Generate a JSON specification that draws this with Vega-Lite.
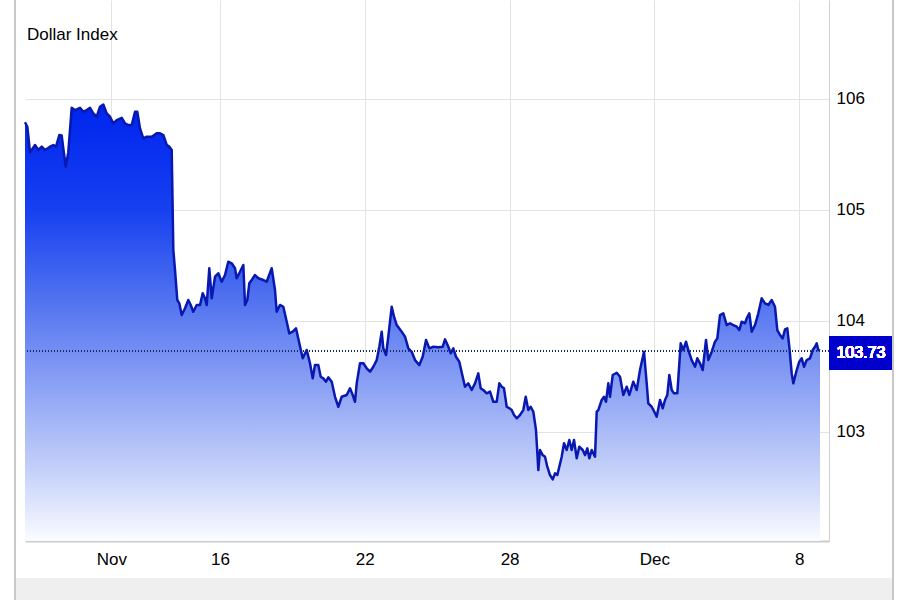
{
  "$schema": "https://vega.github.io/schema/vega-lite/v6.json",
  "width": 804,
  "height": 541,
  "autosize": {"type": "none"},
  "padding": {"left": 25, "top": 0, "right": 71, "bottom": 59},
  "background": "#ffffff",
  "title": {"text": "Dollar Index", "anchor": "start", "frame": "group", "offset": -39, "baseline": "alphabetic", "dx": 2, "dy": 30, "font": "'Liberation Sans', Arial", "fontSize": 17, "fontWeight": "normal", "color": "#000000"},
  "config": {
    "view": {"stroke": null},
    "axis": {"gridColor": "#e3e3e3", "gridWidth": 1, "labelFont": "'Liberation Sans', Arial", "labelFontSize": 17, "labelColor": "#000000", "ticks": false}
  },
  "data": {"values": [
    {"t":-5.387,"v":105.79},{"t":-5.323,"v":105.75},{"t":-5.249,"v":105.52},{"t":-5.202,"v":105.54},{"t":-5.110,"v":105.585},
    {"t":-5.019,"v":105.54},{"t":-4.925,"v":105.57},{"t":-4.834,"v":105.54},{"t":-4.696,"v":105.57},{"t":-4.605,"v":105.585},
    {"t":-4.530,"v":105.57},{"t":-4.439,"v":105.675},{"t":-4.373,"v":105.67},{"t":-4.329,"v":105.555},{"t":-4.262,"v":105.39},
    {"t":-4.191,"v":105.52},{"t":-4.097,"v":105.92},{"t":-4.006,"v":105.90},{"t":-3.867,"v":105.92},{"t":-3.776,"v":105.885},
    {"t":-3.682,"v":105.90},{"t":-3.591,"v":105.92},{"t":-3.500,"v":105.87},{"t":-3.406,"v":105.84},{"t":-3.315,"v":105.93},
    {"t":-3.224,"v":105.95},{"t":-3.130,"v":105.87},{"t":-3.039,"v":105.84},{"t":-2.948,"v":105.78},{"t":-2.854,"v":105.81},
    {"t":-2.715,"v":105.83},{"t":-2.624,"v":105.78},{"t":-2.533,"v":105.765},{"t":-2.439,"v":105.765},{"t":-2.348,"v":105.885},
    {"t":-2.285,"v":105.885},{"t":-2.210,"v":105.735},{"t":-2.119,"v":105.645},{"t":-2.025,"v":105.66},{"t":-1.887,"v":105.66},
    {"t":-1.749,"v":105.69},{"t":-1.657,"v":105.69},{"t":-1.566,"v":105.675},{"t":-1.519,"v":105.63},{"t":-1.472,"v":105.585},
    {"t":-1.401,"v":105.57},{"t":-1.334,"v":105.54},{"t":-1.290,"v":104.64},{"t":-1.243,"v":104.457},{"t":-1.180,"v":104.187},
    {"t":-1.124,"v":104.157},{"t":-1.058,"v":104.051},{"t":-0.967,"v":104.112},{"t":-0.876,"v":104.187},{"t":-0.809,"v":104.142},
    {"t":-0.738,"v":104.081},{"t":-0.644,"v":104.142},{"t":-0.552,"v":104.142},{"t":-0.478,"v":104.247},{"t":-0.414,"v":104.202},
    {"t":-0.367,"v":104.142},{"t":-0.296,"v":104.473},{"t":-0.229,"v":104.202},{"t":-0.138,"v":104.397},{"t":-0.047,"v":104.428},
    {"t":0.047,"v":104.352},{"t":0.138,"v":104.412},{"t":0.229,"v":104.532},{"t":0.323,"v":104.518},{"t":0.414,"v":104.473},
    {"t":0.461,"v":104.383},{"t":0.552,"v":104.442},{"t":0.644,"v":104.503},{"t":0.691,"v":104.142},{"t":0.754,"v":104.187},
    {"t":0.809,"v":104.337},{"t":0.876,"v":104.367},{"t":0.967,"v":104.412},{"t":1.058,"v":104.383},{"t":1.196,"v":104.367},
    {"t":1.290,"v":104.352},{"t":1.428,"v":104.473},{"t":1.519,"v":104.277},{"t":1.566,"v":104.081},{"t":1.657,"v":104.142},
    {"t":1.749,"v":104.126},{"t":1.843,"v":103.991},{"t":1.914,"v":103.886},{"t":2.008,"v":103.901},{"t":2.099,"v":103.931},
    {"t":2.191,"v":103.796},{"t":2.285,"v":103.661},{"t":2.395,"v":103.736},{"t":2.486,"v":103.616},{"t":2.561,"v":103.480},
    {"t":2.624,"v":103.600},{"t":2.715,"v":103.600},{"t":2.782,"v":103.495},{"t":2.854,"v":103.480},{"t":2.928,"v":103.450},
    {"t":2.992,"v":103.489},{"t":3.086,"v":103.450},{"t":3.177,"v":103.314},{"t":3.268,"v":103.224},{"t":3.362,"v":103.314},
    {"t":3.500,"v":103.330},{"t":3.591,"v":103.390},{"t":3.666,"v":103.330},{"t":3.729,"v":103.269},{"t":3.776,"v":103.435},
    {"t":3.867,"v":103.616},{"t":3.959,"v":103.616},{"t":4.052,"v":103.571},{"t":4.144,"v":103.540},{"t":4.235,"v":103.585},
    {"t":4.329,"v":103.645},{"t":4.401,"v":103.765},{"t":4.467,"v":103.901},{"t":4.511,"v":103.751},{"t":4.586,"v":103.691},
    {"t":4.649,"v":103.856},{"t":4.743,"v":104.126},{"t":4.807,"v":104.036},{"t":4.881,"v":103.961},{"t":5.019,"v":103.901},
    {"t":5.110,"v":103.856},{"t":5.202,"v":103.751},{"t":5.296,"v":103.720},{"t":5.387,"v":103.645},{"t":5.506,"v":103.600},
    {"t":5.599,"v":103.675},{"t":5.691,"v":103.826},{"t":5.782,"v":103.751},{"t":5.892,"v":103.765},{"t":6.030,"v":103.760},
    {"t":6.152,"v":103.765},{"t":6.215,"v":103.832},{"t":6.307,"v":103.765},{"t":6.373,"v":103.706},{"t":6.445,"v":103.751},
    {"t":6.519,"v":103.675},{"t":6.610,"v":103.630},{"t":6.704,"v":103.495},{"t":6.768,"v":103.405},{"t":6.859,"v":103.435},
    {"t":6.953,"v":103.375},{"t":7.044,"v":103.435},{"t":7.135,"v":103.525},{"t":7.202,"v":103.390},{"t":7.273,"v":103.375},
    {"t":7.367,"v":103.345},{"t":7.459,"v":103.360},{"t":7.550,"v":103.269},{"t":7.644,"v":103.269},{"t":7.715,"v":103.435},
    {"t":7.782,"v":103.405},{"t":7.845,"v":103.390},{"t":7.920,"v":103.224},{"t":7.992,"v":103.210},{"t":8.058,"v":103.194},
    {"t":8.122,"v":103.149},{"t":8.196,"v":103.120},{"t":8.287,"v":103.149},{"t":8.378,"v":103.194},{"t":8.445,"v":103.314},
    {"t":8.517,"v":103.194},{"t":8.583,"v":103.224},{"t":8.655,"v":103.179},{"t":8.729,"v":103.014},{"t":8.793,"v":102.653},
    {"t":8.840,"v":102.834},{"t":8.914,"v":102.788},{"t":8.978,"v":102.773},{"t":9.041,"v":102.683},{"t":9.116,"v":102.608},
    {"t":9.191,"v":102.569},{"t":9.254,"v":102.623},{"t":9.318,"v":102.608},{"t":9.373,"v":102.683},{"t":9.439,"v":102.773},
    {"t":9.503,"v":102.894},{"t":9.577,"v":102.834},{"t":9.649,"v":102.924},{"t":9.715,"v":102.834},{"t":9.779,"v":102.924},
    {"t":9.854,"v":102.759},{"t":9.925,"v":102.863},{"t":10.019,"v":102.834},{"t":10.083,"v":102.788},{"t":10.146,"v":102.849},
    {"t":10.202,"v":102.759},{"t":10.268,"v":102.834},{"t":10.359,"v":102.773},{"t":10.406,"v":103.179},{"t":10.450,"v":103.194},
    {"t":10.544,"v":103.285},{"t":10.608,"v":103.314},{"t":10.663,"v":103.269},{"t":10.727,"v":103.435},{"t":10.773,"v":103.314},
    {"t":10.848,"v":103.510},{"t":10.959,"v":103.531},{"t":11.050,"v":103.495},{"t":11.141,"v":103.330},{"t":11.235,"v":103.405},
    {"t":11.307,"v":103.330},{"t":11.417,"v":103.450},{"t":11.511,"v":103.375},{"t":11.602,"v":103.555},{"t":11.713,"v":103.720},
    {"t":11.787,"v":103.435},{"t":11.831,"v":103.255},{"t":11.925,"v":103.224},{"t":11.997,"v":103.179},{"t":12.063,"v":103.134},
    {"t":12.155,"v":103.285},{"t":12.229,"v":103.210},{"t":12.293,"v":103.285},{"t":12.356,"v":103.330},{"t":12.412,"v":103.510},
    {"t":12.478,"v":103.375},{"t":12.541,"v":103.345},{"t":12.633,"v":103.345},{"t":12.726,"v":103.796},{"t":12.798,"v":103.736},
    {"t":12.873,"v":103.811},{"t":12.936,"v":103.736},{"t":13.030,"v":103.645},{"t":13.122,"v":103.585},{"t":13.185,"v":103.661},
    {"t":13.260,"v":103.616},{"t":13.334,"v":103.555},{"t":13.425,"v":103.826},{"t":13.489,"v":103.645},{"t":13.583,"v":103.720},
    {"t":13.674,"v":103.811},{"t":13.738,"v":103.841},{"t":13.812,"v":104.051},{"t":13.903,"v":104.067},{"t":13.997,"v":103.961},
    {"t":14.088,"v":103.977},{"t":14.180,"v":103.961},{"t":14.274,"v":103.946},{"t":14.345,"v":103.916},{"t":14.412,"v":103.991},
    {"t":14.503,"v":103.977},{"t":14.550,"v":104.022},{"t":14.622,"v":104.067},{"t":14.688,"v":103.901},{"t":14.779,"v":103.961},
    {"t":14.870,"v":104.067},{"t":14.964,"v":104.202},{"t":15.055,"v":104.157},{"t":15.146,"v":104.142},{"t":15.240,"v":104.187},
    {"t":15.331,"v":104.126},{"t":15.395,"v":103.916},{"t":15.470,"v":103.871},{"t":15.544,"v":103.841},{"t":15.608,"v":103.922},
    {"t":15.671,"v":103.931},{"t":15.727,"v":103.765},{"t":15.793,"v":103.525},{"t":15.837,"v":103.435},{"t":15.931,"v":103.555},
    {"t":16.003,"v":103.630},{"t":16.069,"v":103.661},{"t":16.133,"v":103.585},{"t":16.207,"v":103.645},{"t":16.298,"v":103.661},
    {"t":16.373,"v":103.736},{"t":16.436,"v":103.765},{"t":16.483,"v":103.796},{"t":16.527,"v":103.736},{"t":16.575,"v":103.73}
  ]},
  "layer": [
    {
      "mark": {"type": "rect", "fill": "#efefef"},
      "encoding": {
        "x": {"datum": -5.663, "type": "quantitative", "scale": {"domain": [-5.387, 16.823], "nice": false, "zero": false}},
        "x2": {"datum": 18.59},
        "y": {"datum": 101.679, "type": "quantitative", "scale": {"domain": [102.013, 106.893], "nice": false, "zero": false}},
        "y2": {"datum": 101.3}
      }
    },
    {
      "mark": {"type": "area", "line": false, "fill": {"gradient": "linear", "x1": 0, "y1": 0, "x2": 0, "y2": 1, "stops": [
        {"offset": 0, "color": "rgb(0,36,238)"},
        {"offset": 0.24, "color": "rgb(22,64,240)"},
        {"offset": 0.45, "color": "rgb(82,115,240)"},
        {"offset": 0.68, "color": "rgb(150,170,245)"},
        {"offset": 0.86, "color": "rgb(203,214,250)"},
        {"offset": 1, "color": "rgb(250,252,255)"}
      ]}},
      "encoding": {
        "x": {"field": "t", "type": "quantitative", "scale": {"domain": [-5.387, 16.823], "nice": false, "zero": false},
          "axis": {"title": null, "orient": "bottom", "values": [-3, 0, 4, 8, 12, 16], "labelExpr": "datum.value == -3 ? 'Nov' : datum.value == 0 ? '16' : datum.value == 4 ? '22' : datum.value == 8 ? '28' : datum.value == 12 ? 'Dec' : '8'", "grid": true, "domain": true, "domainColor": "#cccccc", "domainWidth": 2, "labelPadding": 10, "labelFlush": false}},
        "y": {"field": "v", "type": "quantitative", "scale": {"domain": [102.013, 106.893], "nice": false, "zero": false},
          "axis": {"title": null, "orient": "right", "values": [103, 104, 105, 106], "format": ".0f", "grid": true, "domain": true, "domainColor": "#d0d0d0", "labelPadding": 7, "labelFlush": false}},
        "y2": {"datum": 102.013}
      }
    },
    {
      "mark": {"type": "line", "color": "#0818b0", "strokeWidth": 2.5, "strokeJoin": "round"},
      "encoding": {
        "x": {"field": "t", "type": "quantitative"},
        "y": {"field": "v", "type": "quantitative"}
      }
    },
    {
      "mark": {"type": "rule", "color": "#1b2a66", "strokeWidth": 1, "strokeDash": [1, 2]},
      "encoding": {
        "y": {"datum": 103.73, "type": "quantitative"}
      }
    },
    {
      "mark": {"type": "rect", "fill": "#0000cc"},
      "encoding": {
        "x": {"datum": 16.85, "type": "quantitative"},
        "x2": {"datum": 18.56},
        "y": {"datum": 103.862, "type": "quantitative"},
        "y2": {"datum": 103.555}
      }
    },
    {
      "mark": {"type": "text", "color": "#ffffff", "align": "center", "baseline": "middle", "font": "'Liberation Sans', Arial", "fontSize": 16},
      "encoding": {
        "x": {"datum": 17.705, "type": "quantitative"},
        "y": {"datum": 103.705, "type": "quantitative"},
        "text": {"value": "103.73"}
      }
    },
    {
      "mark": {"type": "rule", "color": "#c8c8c8", "strokeWidth": 1},
      "encoding": {
        "x": {"datum": -5.663, "type": "quantitative"},
        "y": {"datum": 107.0, "type": "quantitative"},
        "y2": {"datum": 101.3}
      }
    },
    {
      "mark": {"type": "rule", "color": "#c8c8c8", "strokeWidth": 1},
      "encoding": {
        "x": {"datum": 18.59, "type": "quantitative"},
        "y": {"datum": 107.0, "type": "quantitative"},
        "y2": {"datum": 101.3}
      }
    }
  ]
}
